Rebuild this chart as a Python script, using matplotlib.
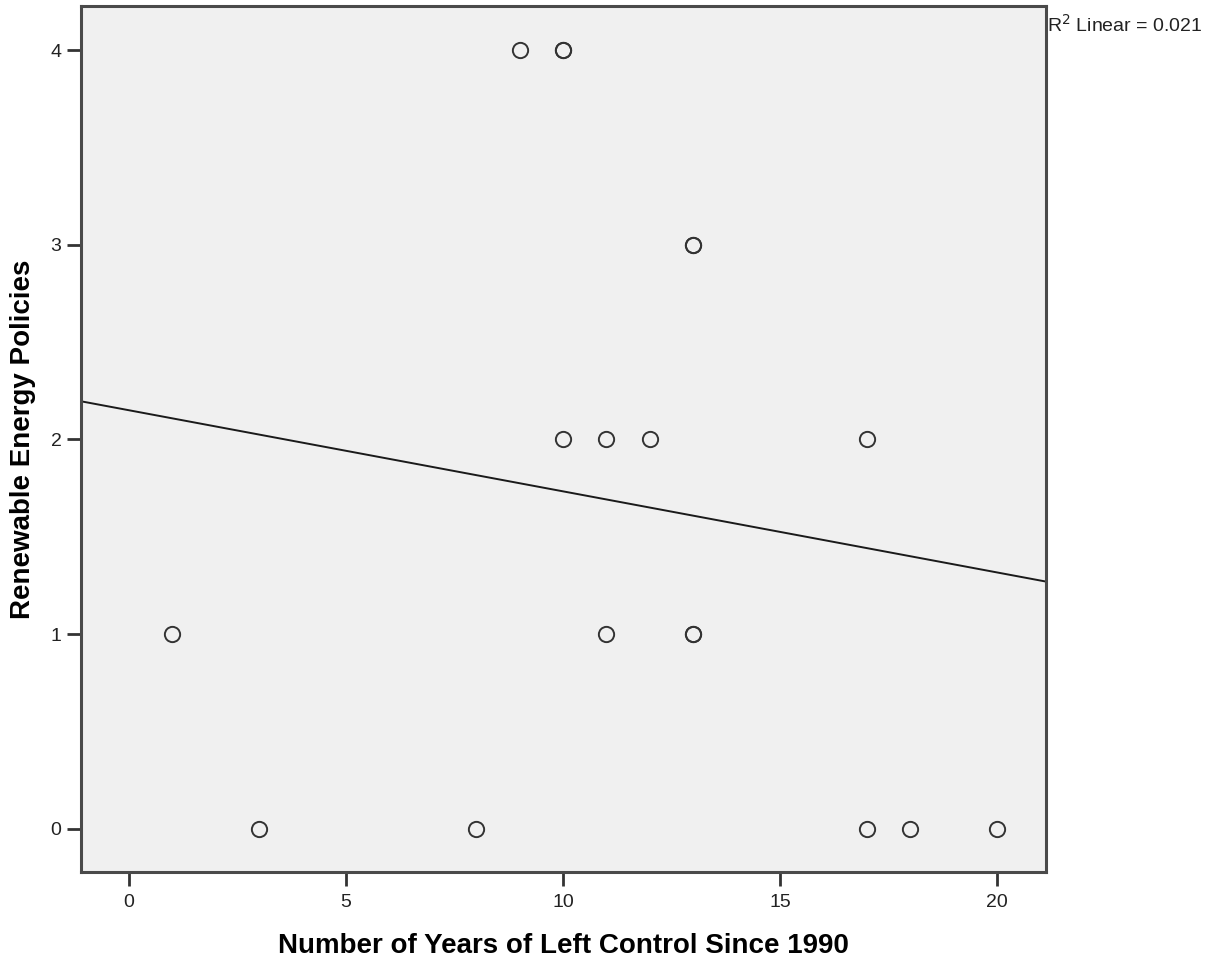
import numpy as np
import matplotlib.pyplot as plt

plt.rcParams['font.family'] = ['Liberation Sans', 'DejaVu Sans']

# data (duplicates are overplotted points)
years_left = [1, 3, 8, 9, 10, 10, 10, 11, 11, 12, 13, 13, 13, 13, 17, 17, 18, 20]
policies = [1, 0, 0, 4, 4, 4, 2, 2, 1, 2, 3, 3, 1, 1, 2, 0, 0, 0]
x_ticks = [0, 5, 10, 15, 20]
y_ticks = [0, 1, 2, 3, 4]
r2_label = "R$^2$ Linear = 0.021"


def main():
    x = np.array(years_left, dtype=float)
    y = np.array(policies, dtype=float)

    fig = plt.figure(figsize=(12.27, 9.66), dpi=100)
    ax = fig.add_axes([0.066, 0.0973, 0.7865, 0.8965])
    ax.set_facecolor("#f0f0f0")

    xlim = (-1.106, 21.13)
    ylim = (-0.221, 4.226)

    # linear fit
    slope, icpt = np.polyfit(x, y, 1)
    xs = np.array(xlim)
    ax.plot(xs, icpt + slope * xs, color="#1a1a1a", lw=1.4)

    ax.plot(x, y, "o", linestyle="none", markersize=11,
            markerfacecolor="none", markeredgecolor="#333333",
            markeredgewidth=1.4)

    ax.set_xlim(*xlim)
    ax.set_ylim(*ylim)
    ax.set_xticks(x_ticks)
    ax.set_yticks(y_ticks)

    for s in ax.spines.values():
        s.set_color("#4a4a4a")
        s.set_linewidth(2.2)
    ax.tick_params(direction="out", length=10, width=2, color="#333333",
                   labelsize=14, labelcolor="#222222", pad=4)
    ax.tick_params(axis="x", pad=6)

    ax.set_xlabel("Number of Years of Left Control Since 1990",
                  fontsize=20, fontweight="bold")
    ax.xaxis.set_label_coords(0.5, -0.071)
    ax.set_ylabel("Renewable Energy Policies",
                  fontsize=20, fontweight="bold")
    ax.yaxis.set_label_coords(-0.047, 0.5)

    fig.text(1047 / 1227, 1 - 32 / 966, r2_label, fontsize=14,
             color="#222222", ha="left", va="baseline")

    plt.savefig("out.png", dpi=100)


if __name__ == "__main__":
    main()
